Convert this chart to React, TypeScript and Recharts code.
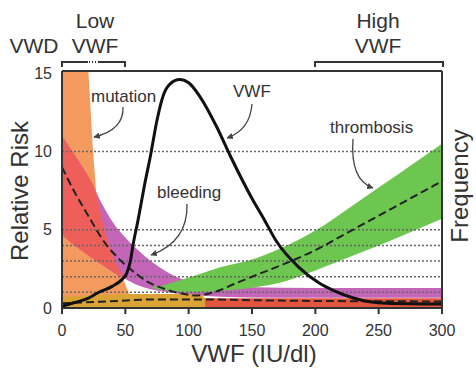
import React from 'react';
import { ComposedChart, XAxis, YAxis, Area, Line, ReferenceLine } from 'recharts';

// axis
const X_TICKS = [0, 50, 100, 150, 200, 250, 300];
const Y_TICKS = [0, 5, 10, 15];
const GRID_Y = [1, 2, 3, 4, 5, 10];
const Y_MAX = 15.15;

// mutation (orange) region, from 0 up to its edge
const MUT_X = [0, 20.8, 24.5, 27, 32, 38, 44, 47, 50, 53, 55];
const MUT_HI = [15.15, 15.15, 10, 7.4, 5.5, 3.8, 2.6, 2.2, 1.5, 0.9, 0.6];

// bleeding risk band (purple)
const BLEED_X = [0, 10, 20, 27, 30, 40, 50, 60, 70, 80, 90, 100, 110, 125, 150, 200, 300];
const BLEED_LO = [4.66, 4.0, 3.4, 3.0, 2.85, 2.3, 1.85, 1.45, 1.2, 1.05, 0.93, 0.85, 0.78, 0.72, 0.67, 0.65, 0.65];
const BLEED_HI = [11, 9.8, 8.5, 7.4, 6.9, 5.5, 4.5, 3.7, 3.0, 2.45, 2.0, 1.7, 1.5, 1.4, 1.32, 1.28, 1.28];

// bleeding band where it overlaps the mutation region (red)
const OVER_X = [0, 10, 20, 24.5, 27, 32, 38, 44, 47, 49];
const OVER_LO = [4.66, 4.0, 3.4, 3.15, 3.0, 2.75, 2.45, 2.1, 1.95, 1.9];
const OVER_HI = [11, 9.8, 8.5, 7.9, 7.4, 5.5, 3.8, 2.6, 2.2, 1.9];

// thrombosis band (green)
const THROMB_X = [70, 80, 90, 100, 110, 125, 150, 175, 200, 225, 250, 275, 300];
const THROMB_LO = [1.3, 1.15, 1.05, 1.0, 1.02, 1.1, 1.3, 1.68, 2.4, 3.2, 4.0, 4.85, 5.7];
const THROMB_HI = [1.3, 1.45, 1.7, 1.95, 2.2, 2.6, 3.1, 3.9, 4.95, 6.3, 7.7, 9.1, 10.5];

// low band along the bottom
const BASE_X = [0, 100, 300];
const BASE_LO = [0, 0, 0];
const BASE_HI = [0.62, 0.62, 0.62];
const AMBER_X = [0, 50, 100, 110, 113];
const AMBER_LO = [0, 0, 0, 0, 0];
const AMBER_HI = [0.72, 0.9, 0.9, 0.85, 0.62];

// dashed risk curves
const RISK_X = [0, 10, 20, 34, 46, 60, 67, 80, 90, 100, 105, 115, 125, 135, 150, 175, 200, 225, 250, 275, 300];
const RISK_Y = [9.0, 7.4, 6.0, 4.15, 3.06, 2.1, 1.7, 1.25, 1.0, 0.85, 0.8, 0.9, 1.15, 1.5, 2.0, 2.8, 3.7, 4.8, 5.9, 7.0, 8.1];
const BASE_RISK_X = [0, 30, 77, 110, 150, 200, 300];
const BASE_RISK_Y = [0.3, 0.4, 0.55, 0.55, 0.5, 0.45, 0.42];

// VWF frequency distribution
const VWF_X = [0, 10, 20, 28, 40, 47, 51, 54, 56, 60, 65, 70, 75, 80, 85, 93, 100, 109, 122, 133, 150, 160, 169, 187, 203, 215, 230, 256, 300];
const VWF_Y = [0.1, 0.35, 0.6, 0.96, 1.4, 1.8, 2.2, 3.0, 4.0, 5.6, 7.8, 9.8, 12.0, 13.6, 14.3, 14.6, 14.4, 13.5, 11.6, 9.7, 7.0, 5.6, 4.3, 2.6, 1.6, 1.1, 0.64, 0.3, 0.25];

const band = (xs: number[], lo: number[], hi: number[]) => xs.map((x, i) => ({ x, r: [lo[i], hi[i]] }));
const curve = (xs: number[], ys: number[]) => xs.map((x, i) => ({ x, y: ys[i] }));

const INK = '#333';
const FONT = '"Liberation Sans", Arial, Helvetica, sans-serif';

const Arrow = ({ d }: { d: string }) => (
    <path d={d} fill="none" stroke="#444" strokeWidth={1.3} markerEnd="url(#head)" />
);

export default function App() {
    return (
        <div style={{ position: 'fixed', left: 0, top: 0, width: 476, height: 372, background: '#fff', fontFamily: FONT }}>
            <ComposedChart width={476} height={372} margin={{ top: 71, right: 34, bottom: 0, left: 0 }}>
                <XAxis
                    type="number"
                    dataKey="x"
                    domain={[0, 300]}
                    ticks={X_TICKS}
                    allowDataOverflow
                    height={64}
                    stroke={INK}
                    strokeWidth={2}
                    tickSize={6}
                    tickMargin={11}
                    tick={{ fontSize: 16, fill: INK, fontFamily: FONT }}
                />
                <YAxis
                    type="number"
                    domain={[0, Y_MAX]}
                    ticks={Y_TICKS}
                    allowDataOverflow
                    width={62}
                    stroke={INK}
                    strokeWidth={2}
                    tickLine={false}
                    tickMargin={4}
                    tick={{ fontSize: 16, fill: INK, fontFamily: FONT }}
                />
                <Area data={band(MUT_X, MUT_X.map(() => 0), MUT_HI)} dataKey="r" type="linear" fill="#f59a5e" fillOpacity={1} stroke="none" isAnimationActive={false} />
                <Area data={band(BLEED_X, BLEED_LO, BLEED_HI)} dataKey="r" type="monotone" fill="#c466b8" fillOpacity={1} stroke="none" isAnimationActive={false} />
                <Area data={band(THROMB_X, THROMB_LO, THROMB_HI)} dataKey="r" type="monotone" fill="#6dc64f" fillOpacity={1} stroke="none" isAnimationActive={false} />
                <Area data={band(OVER_X, OVER_LO, OVER_HI)} dataKey="r" type="linear" fill="#ef5f5a" fillOpacity={1} stroke="none" isAnimationActive={false} />
                <Area data={band(BASE_X, BASE_LO, BASE_HI)} dataKey="r" type="linear" fill="#e4553f" fillOpacity={1} stroke="none" isAnimationActive={false} />
                <Area data={band(AMBER_X, AMBER_LO, AMBER_HI)} dataKey="r" type="linear" fill="#d9a435" fillOpacity={1} stroke="none" isAnimationActive={false} />
                {GRID_Y.map((y) => (
                    <ReferenceLine key={y} y={y} stroke="#666" strokeWidth={1.5} strokeDasharray="2 2" />
                ))}
                <Line data={curve(BASE_RISK_X, BASE_RISK_Y)} dataKey="y" type="monotone" stroke="#222" strokeWidth={2} strokeDasharray="8 4" dot={false} isAnimationActive={false} />
                <Line data={curve(RISK_X, RISK_Y)} dataKey="y" type="monotone" stroke="#222" strokeWidth={2} strokeDasharray="8 4" dot={false} isAnimationActive={false} />
                <Line data={curve(VWF_X, VWF_Y)} dataKey="y" type="monotone" stroke="#111" strokeWidth={3} dot={false} isAnimationActive={false} />
                <ReferenceLine y={Y_MAX} stroke={INK} strokeWidth={2} />
                <ReferenceLine x={300} stroke={INK} strokeWidth={2} />
            </ComposedChart>

            <svg width={476} height={372} style={{ position: 'absolute', left: 0, top: 0, pointerEvents: 'none' }}>
                <defs>
                    <marker id="head" viewBox="0 0 10 10" refX="9" refY="5" markerWidth="5" markerHeight="5" orient="auto">
                        <path d="M0,0 L10,5 L0,10 z" fill="#444" />
                    </marker>
                </defs>
                {/* range brackets */}
                <g stroke={INK} strokeWidth={2} fill="none">
                    <path d="M62 67 V62 H88" />
                    <path d="M89 62 H97" strokeDasharray="1 2" />
                    <path d="M98 62 H125 V67" />
                    <path d="M315 67 V62 H443 V67" />
                </g>
                <g fill={INK} fontSize={21} textAnchor="middle" fontFamily={FONT}>
                    <text x={34} y={53}>VWD</text>
                    <text x={95} y={28}>Low</text>
                    <text x={95} y={53}>VWF</text>
                    <text x={378} y={28}>High</text>
                    <text x={378} y={53}>VWF</text>
                </g>
                {/* curve labels */}
                <g fill={INK} fontSize={17} fontFamily={FONT}>
                    <text x={91} y={102}>mutation</text>
                    <text x={233} y={97}>VWF</text>
                    <text x={157} y={198}>bleeding</text>
                    <text x={330} y={133}>thrombosis</text>
                </g>
                <Arrow d="M123 107 Q124 130 94 137" />
                <Arrow d="M252 104 Q250 130 227 138" />
                <Arrow d="M187 204 Q188 242 151 255" />
                <Arrow d="M353 139 Q350 180 373 188" />
                {/* axis titles */}
                <g fill={INK} fontSize={24} textAnchor="middle" fontFamily={FONT}>
                    <text x={254} y={362}>VWF (IU/dl)</text>
                    <text x={28} y={191} transform="rotate(-90 28 191)">Relative Risk</text>
                    <text x={468} y={186} transform="rotate(-90 468 186)">Frequency</text>
                </g>
            </svg>
        </div>
    );
}
